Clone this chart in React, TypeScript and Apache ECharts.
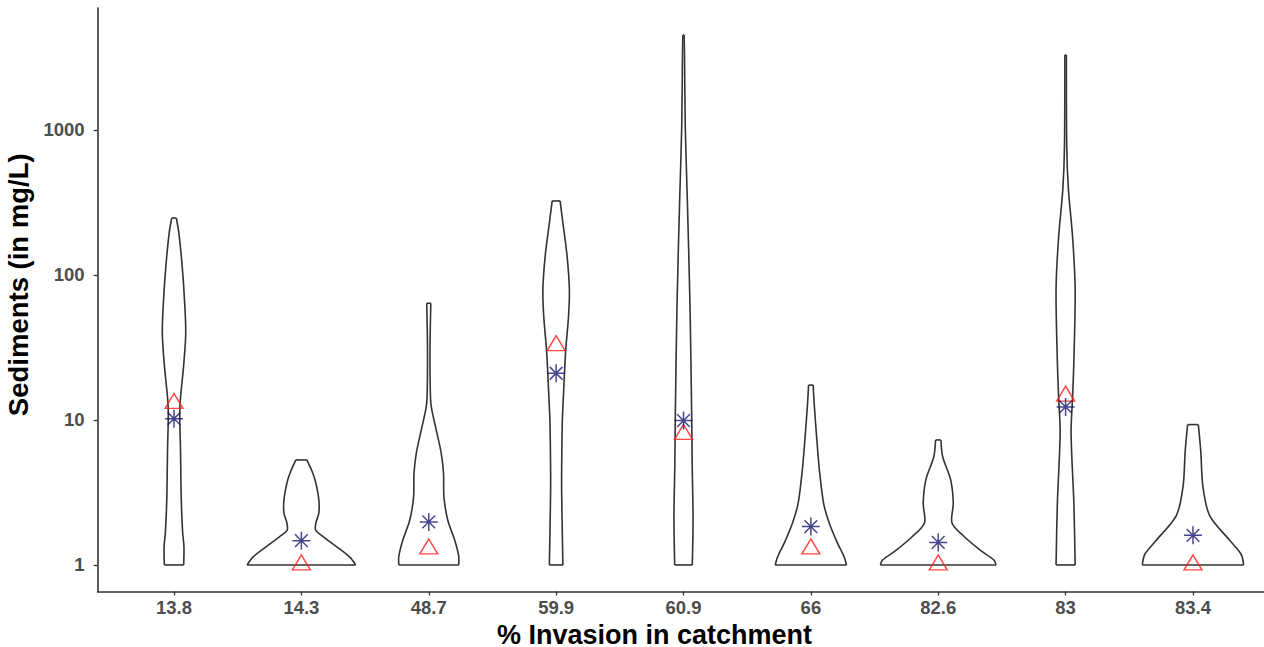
import React, { useEffect, useRef } from "react";
import * as echarts from "echarts";

// x categories (% invasion in catchment)
const categories = ["13.8", "14.3", "48.7", "59.9", "60.9", "66", "82.6", "83", "83.4"];
// y tick values (log scale)
const yTicks = [1, 10, 100, 1000];

// summary markers per category
const meanValues = [10.2, 1.47, 1.98, 21, 9.9, 1.84, 1.43, 12.3, 1.6];
const medianValues = [13.0, 1, 1.29, 32.5, 7.94, 1.29, 1, 14.6, 1];

// violin density profiles: sediment level (mg/L) and half-width (fraction of a category slot)
const levels1 = [1, 1.34, 1.66, 2.82, 6.17, 12.3, 23.4, 39.8, 67.6, 115, 195, 247];
const widths1 = [0.076, 0.078, 0.068, 0.057, 0.051, 0.046, 0.075, 0.092, 0.082, 0.064, 0.038, 0.018];
const levels2 = [1, 1.14, 1.34, 1.57, 1.74, 1.95, 2.28, 2.81, 3.66, 4.31, 5.3];
const widths2 = [0.426, 0.377, 0.275, 0.17, 0.112, 0.114, 0.137, 0.137, 0.114, 0.089, 0.043];
const levels3 = [1, 1.15, 1.48, 2.04, 2.95, 4.27, 5.89, 8.51, 12.3, 15.8, 32.1, 63.8];
const widths3 = [0.235, 0.235, 0.204, 0.149, 0.119, 0.116, 0.098, 0.059, 0.02, 0.012, 0.01, 0.016];
const levels4 = [1, 2.0, 3.55, 6.31, 10, 15.8, 30.2, 51.3, 79.4, 135, 229, 324];
const widths4 = [0.053, 0.047, 0.043, 0.045, 0.049, 0.059, 0.075, 0.097, 0.104, 0.086, 0.053, 0.031];
const levels5 = [1, 2.09, 5.01, 11.2, 61.7, 331, 1047, 3236, 4520];
const widths5 = [0.069, 0.075, 0.068, 0.064, 0.051, 0.03, 0.014, 0.008, 0.005];
const levels6 = [1, 1.14, 1.41, 1.95, 2.66, 4.52, 7.67, 13.0, 17.4];
const widths6 = [0.28, 0.261, 0.21, 0.144, 0.1, 0.067, 0.045, 0.026, 0.018];
const levels7 = [1, 1.08, 1.27, 1.57, 1.95, 2.66, 3.85, 5.58, 7.28];
const widths7 = [0.454, 0.438, 0.327, 0.203, 0.108, 0.118, 0.098, 0.035, 0.021];
const levels8 = [1, 2.63, 8.13, 14.5, 25.7, 79.4, 182, 389, 759, 3290];
const widths8 = [0.075, 0.065, 0.043, 0.055, 0.065, 0.075, 0.055, 0.022, 0.009, 0.006];
const levels9 = [1, 1.19, 1.48, 2.19, 3.47, 6.11, 9.29];
const widths9 = [0.398, 0.377, 0.288, 0.131, 0.078, 0.061, 0.042];

const violinLevels = [levels1, levels2, levels3, levels4, levels5, levels6, levels7, levels8, levels9];
const violinWidths = [widths1, widths2, widths3, widths4, widths5, widths6, widths7, widths8, widths9];

const FONT = "'Liberation Sans', Arial, Helvetica, sans-serif";
const STAR = "path://M0,9L18,9M9,0L9,18M2.64,2.64L15.36,15.36M15.36,2.64L2.64,15.36";

export default function App() {
  const ref = useRef<HTMLDivElement>(null);

  useEffect(() => {
    document.body.style.margin = "0";
    if (!ref.current) return;
    const chart = echarts.init(ref.current, undefined, { renderer: "svg" });

    const renderViolin = (params: any, api: any) => {
      const i = params.dataIndex;
      const lv = violinLevels[i];
      const hw = violinWidths[i];
      const left = lv.map((v, k) => api.coord([i - hw[k], v]));
      const right = lv.map((v, k) => api.coord([i + hw[k], v]));
      const n = lv.length;
      const stroke = { stroke: "#333333", lineWidth: 1.6, fill: "none" };
      return {
        type: "group",
        children: [
          {
            type: "polygon",
            shape: { points: [...left, ...right.slice().reverse()], smooth: 0.3 },
            style: { fill: "#ffffff", stroke: "none" },
          },
          { type: "polyline", shape: { points: left, smooth: 0.3 }, style: stroke },
          { type: "polyline", shape: { points: right, smooth: 0.3 }, style: stroke },
          { type: "line", shape: { x1: left[0][0], y1: left[0][1], x2: right[0][0], y2: right[0][1] }, style: stroke },
          {
            type: "line",
            shape: { x1: left[n - 1][0], y1: left[n - 1][1], x2: right[n - 1][0], y2: right[n - 1][1] },
            style: stroke,
          },
        ],
      };
    };

    chart.setOption({
      animation: false,
      backgroundColor: "#ffffff",
      grid: { left: 97.6, top: 8, width: 1171.8, height: 583.5, containLabel: false, outerBoundsMode: "none" },
      xAxis: {
        type: "value",
        min: -0.6,
        max: 8.6,
        name: "% Invasion in catchment",
        nameLocation: "middle",
        nameGap: 21,
        nameTextStyle: { fontFamily: FONT, fontWeight: "bold", fontSize: 27, color: "#000000", padding: [0, 58, 0, 0] },
        axisLine: { show: true, onZero: false, lineStyle: { color: "#333333", width: 1.6 } },
        axisTick: { show: true, length: 4, customValues: categories.map((_, i) => i), lineStyle: { color: "#333333", width: 1.3 } },
        axisLabel: {
          customValues: categories.map((_, i) => i),
          formatter: (v: number) => categories[Math.round(v)] ?? "",
          fontFamily: FONT,
          fontWeight: "bold",
          fontSize: 18.5,
          color: "#4d4d4d",
          margin: 6,
        },
        splitLine: { show: false },
      },
      yAxis: {
        type: "log",
        logBase: 10,
        min: 0.656,
        max: 6937,
        name: "Sediments (in mg/L)",
        nameLocation: "middle",
        nameGap: 40,
        nameTextStyle: { fontFamily: FONT, fontWeight: "bold", fontSize: 27.5, color: "#000000", padding: [0, 0, 0, 30] },
        axisLine: { show: true, onZero: false, lineStyle: { color: "#333333", width: 1.6 } },
        axisTick: { show: true, length: 4, customValues: yTicks, lineStyle: { color: "#333333", width: 1.3 } },
        axisLabel: {
          customValues: yTicks,
          formatter: (v: number) => String(Math.round(v)),
          fontFamily: FONT,
          fontWeight: "bold",
          fontSize: 18.5,
          color: "#4d4d4d",
          margin: 13,
        },
        splitLine: { show: false },
      },
      series: [
        {
          type: "custom",
          renderItem: renderViolin,
          clip: false,
          data: categories.map((_, i) => [i, violinLevels[i][violinLevels[i].length - 1]]),
          encode: { x: 0, y: 1 },
          z: 1,
        },
        {
          type: "scatter",
          data: medianValues.map((v, i) => [i, v]),
          symbol: "triangle",
          symbolSize: [18, 15],
          symbolOffset: [0, -2.5],
          itemStyle: { color: "rgba(0,0,0,0)", borderColor: "#ff1a1a", borderWidth: 1.4 },
          z: 3,
        },
        {
          type: "scatter",
          data: meanValues.map((v, i) => [i, v]),
          symbol: STAR,
          symbolSize: 18,
          itemStyle: { color: "rgba(0,0,0,0)", borderColor: "#191970", borderWidth: 1.5 },
          z: 4,
        },
      ],
    });

    return () => chart.dispose();
  }, []);

  return <div ref={ref} style={{ width: 1264, height: 647 }} />;
}
